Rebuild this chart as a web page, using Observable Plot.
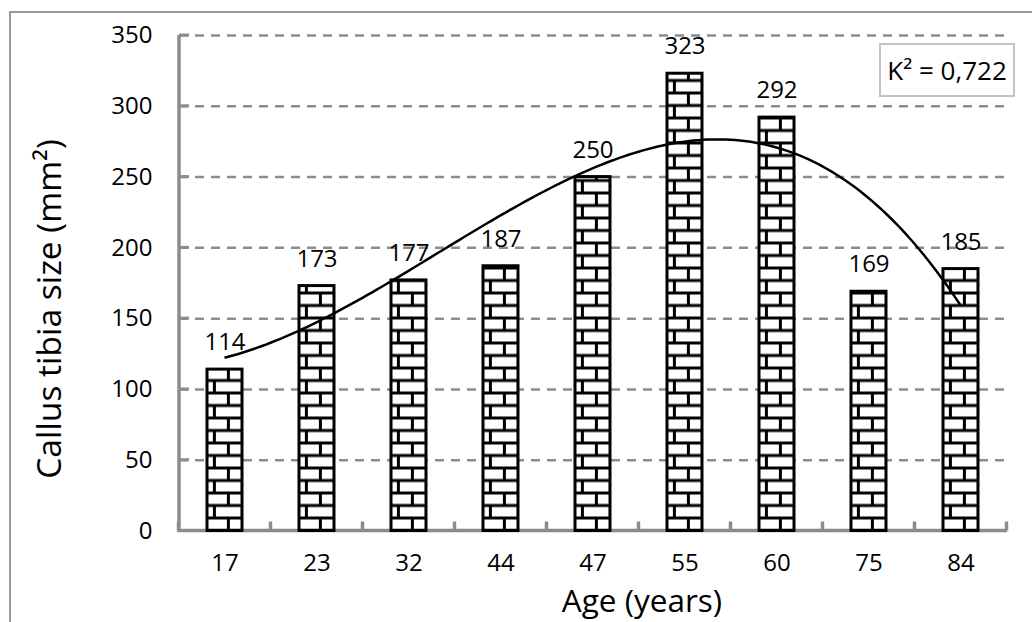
<!DOCTYPE html>
<html>
<head>
<meta charset="utf-8">
<script src="https://cdn.jsdelivr.net/npm/d3@7"></script>
<script src="https://cdn.jsdelivr.net/npm/@observablehq/plot@0.6"></script>
<style>
  body { margin: 0; background: #fff; font-family: "Open Sans", sans-serif; }
  #wrap { position: relative; width: 1032px; height: 622px; overflow: hidden; background: #fff; }
  #frame { position: absolute; left: 9px; top: 11px; width: 1200px; height: 800px;
           border-left: 2.5px solid #9a9a9a; border-top: 2.5px solid #9a9a9a; pointer-events: none; }
  #chart { position: absolute; left: 0; top: 0; }
  #legend { position: absolute; left: 879px; top: 43px; width: 132px; height: 50px;
            border: 2px solid #c4c4c4; background: #fff; display: flex; align-items: center;
            justify-content: center; font-family: "Open Sans", sans-serif; font-size: 26px; color: #000; }
</style>
</head>
<body>
<div id="wrap">
  <div id="frame"></div>
  <div id="chart"></div>
  <div id="legend"></div>
</div>
<script>
// ---- data ----
const ages = ["17", "23", "32", "44", "47", "55", "60", "75", "84"];
const sizes = [114, 173, 177, 187, 250, 323, 292, 169, 185];
const yTicks = [0, 50, 100, 150, 200, 250, 300, 350];
const fitLabel = "K² = 0,722";
const xTitle = "Age (years)";
const yTitle = "Callus tibia size (mm²)";

const data = ages.map((a, i) => ({age: a, size: sizes[i]}));

// cubic polynomial trend (least squares on category index)
function polyfit(xs, ys, deg) {
  const n = deg + 1;
  const A = Array.from({length: n}, () => new Array(n + 1).fill(0));
  for (let r = 0; r < n; r++) {
    for (let c = 0; c < n; c++) A[r][c] = d3.sum(xs, x => x ** (r + c));
    A[r][n] = d3.sum(xs, (x, i) => ys[i] * x ** r);
  }
  for (let i = 0; i < n; i++) {
    let p = i;
    for (let k = i + 1; k < n; k++) if (Math.abs(A[k][i]) > Math.abs(A[p][i])) p = k;
    [A[i], A[p]] = [A[p], A[i]];
    for (let k = i + 1; k < n; k++) {
      const f = A[k][i] / A[i][i];
      for (let j = i; j <= n; j++) A[k][j] -= f * A[i][j];
    }
  }
  const coef = new Array(n).fill(0);
  for (let i = n - 1; i >= 0; i--) {
    let s = A[i][n];
    for (let j = i + 1; j < n; j++) s -= A[i][j] * coef[j];
    coef[i] = s / A[i][i];
  }
  return coef;
}
const idx = ages.map((_, i) => i);
const coef = polyfit(idx, sizes, 3);
const poly = t => coef.reduce((s, c, k) => s + c * t ** k, 0);

const GRAY = "#8c8c8c";

function deco(index, scales, values, dimensions) {
  const {x, y} = scales;
  const bw = x.bandwidth();
  const step = x(ages[1]) - x(ages[0]);
  const left = x(ages[0]);
  const x0 = dimensions.marginLeft;
  const x1 = dimensions.width - dimensions.marginRight;
  const y0 = y(0);
  const yTop = y(350);
  const g = d3.create("svg:g");

  // brick pattern, aligned to every bar (tile width = band step)
  const rowH = 12.5, brick = 28;
  const pat = g.append("defs").append("pattern")
    .attr("id", "brick").attr("patternUnits", "userSpaceOnUse")
    .attr("x", left).attr("y", y0).attr("width", step).attr("height", rowH * 2);
  pat.append("rect").attr("width", step).attr("height", rowH * 2).attr("fill", "#fff");
  let d = `M0,0H${step}M0,${rowH}H${step}M0,${2 * rowH}H${step}`;
  for (let jx = 7.4; jx < bw + brick; jx += brick) d += `M${jx},0V${rowH}`;
  for (let jx = 21.4; jx < bw + brick; jx += brick) d += `M${jx},${rowH}V${2 * rowH}`;
  pat.append("path").attr("d", d).attr("stroke", "#000").attr("stroke-width", 3).attr("fill", "none");

  // axes
  g.append("line").attr("x1", x0).attr("x2", x0).attr("y1", yTop).attr("y2", y0 + 1.5)
    .attr("stroke", GRAY).attr("stroke-width", 3.5);
  g.append("line").attr("x1", x0 - 1.5).attr("x2", x1).attr("y1", y0).attr("y2", y0)
    .attr("stroke", GRAY).attr("stroke-width", 3.5);
  for (const t of yTicks) {
    g.append("line").attr("x1", x0).attr("x2", x0 + 10).attr("y1", y(t)).attr("y2", y(t))
      .attr("stroke", GRAY).attr("stroke-width", 3);
  }
  for (let i = 0; i <= ages.length; i++) {
    const bx = left + bw / 2 - step / 2 + i * step;
    g.append("line").attr("x1", bx).attr("x2", bx).attr("y1", y0).attr("y2", y0 - 9)
      .attr("stroke", GRAY).attr("stroke-width", 3.5);
  }
  return g.node();
}

function trend(index, scales) {
  const {x, y} = scales;
  const bw = x.bandwidth();
  const step = x(ages[1]) - x(ages[0]);
  const c0 = x(ages[0]) + bw / 2;
  const pts = d3.range(0, ages.length - 1 + 1e-9, 0.05).map(t => [c0 + t * step, y(poly(t))]);
  const g = d3.create("svg:g");
  g.append("path").attr("d", d3.line()(pts)).attr("fill", "none")
    .attr("stroke", "#000").attr("stroke-width", 2.5);
  return g.node();
}

function titles(index, scales, values, dimensions) {
  const g = d3.create("svg:g").attr("font-family", "Open Sans, sans-serif").attr("fill", "#000");
  g.append("text").attr("x", 642).attr("y", 612).attr("text-anchor", "middle")
    .attr("font-size", 31.5).text(xTitle);
  g.append("text").attr("transform", "translate(61,309) rotate(-90)").attr("text-anchor", "middle")
    .attr("font-size", 33.5).text(yTitle);
  return g.node();
}

const chart = Plot.plot({
  width: 1032,
  height: 622,
  marginLeft: 179,
  marginRight: 25,
  marginTop: 35,
  marginBottom: 91.5,
  x: {domain: ages, paddingInner: 0.616, paddingOuter: 0.308, align: 0.5},
  y: {domain: [0, 350]},
  style: {fontFamily: "Open Sans, sans-serif", fontSize: "24px", color: "#000", background: "transparent", overflow: "visible"},
  marks: [
    Plot.gridY(yTicks.filter(t => t > 0), {stroke: GRAY, strokeOpacity: 1, strokeWidth: 2.5, strokeDasharray: "9,7"}),
    deco,
    Plot.barY(data, {x: "age", y: "size", fill: "url(#brick)", stroke: "#000", strokeWidth: 3}),
    trend,
    Plot.text(data, {x: "age", y: "size", text: d => String(d.size), dy: -27, fontSize: 24, fill: "#000"}),
    Plot.axisY(yTicks, {tickSize: 0, tickPadding: 27, fontSize: 24, label: null, fill: "#000"}),
    Plot.axisX({tickSize: 0, tickPadding: 23, fontSize: 24, label: null, fill: "#000"}),
    titles
  ]
});
document.getElementById("chart").appendChild(chart);
document.getElementById("legend").textContent = fitLabel;
</script>
</body>
</html>
